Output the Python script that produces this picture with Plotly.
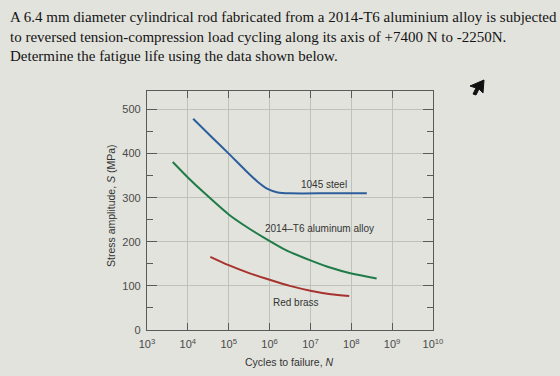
import plotly.graph_objects as go

# ---- data (log10 of cycles, stress amplitude MPa) ----
steel_logN = [4.13, 4.6, 5.0, 5.4, 5.7, 5.95, 6.2, 6.5, 7.5, 8.38]
steel_S = [479, 436, 400, 363, 337, 320, 312, 310, 310, 310]

alu_logN = [3.63, 4.0, 4.4, 5.0, 5.45, 5.85, 6.4, 7.0, 7.5, 8.0, 8.62]
alu_S = [381, 346, 311, 262, 233, 210, 181, 158, 141, 128, 117]

brass_logN = [4.55, 5.0, 5.5, 6.0, 6.5, 7.0, 7.5, 7.95]
brass_S = [166, 147, 129, 114, 100, 89, 81, 77]

x_tickvals = [1e3, 1e4, 1e5, 1e6, 1e7, 1e8, 1e9, 1e10]
x_ticktext = ["10<sup>3</sup>", "10<sup>4</sup>", "10<sup>5</sup>", "10<sup>6</sup>",
              "10<sup>7</sup>", "10<sup>8</sup>", "10<sup>9</sup>", "10<sup>10</sup>"]
y_tickvals = [0, 100, 200, 300, 400, 500]

question_lines = [
    "A 6.4 mm diameter cylindrical rod fabricated from a 2014-T6 aluminium alloy is subjected",
    "to reversed tension-compression load cycling along its axis of +7400 N to -2250N.",
    "Determine the fatigue life using the data shown below.",
]

W, H = 560, 376
L, R, T, B = 147, 127, 91, 46
PW, PH = W - L - R, H - T - B

def px(x):
    return (x - L) / PW

def py(y):
    return 1 - (y - T) / PH

BG = "#e2e3dd"
fig = go.Figure()

def curve(logN, S, color):
    fig.add_trace(go.Scatter(
        x=[10 ** v for v in logN], y=S, mode="lines",
        line=dict(color=color, width=2, shape="spline", smoothing=0.7),
        showlegend=False, hoverinfo="skip"))

curve(steel_logN, steel_S, "#2c5e9c")
curve(alu_logN, alu_S, "#1f7b47")
curve(brass_logN, brass_S, "#a6332e")

tickfont = dict(family="Liberation Sans, Arial", size=11, color="#4a4a4a")

fig.update_xaxes(
    type="log", range=[3, 10], tickvals=x_tickvals, ticktext=x_ticktext,
    showgrid=True, gridcolor="#bfc1bb", gridwidth=1,
    showline=True, linecolor="#5a5a5a", linewidth=1.2, mirror="ticks",
    ticks="inside", ticklen=7, tickcolor="#5a5a5a", tickfont=tickfont,
    ticklabelstandoff=4, zeroline=False,
)
fig.update_yaxes(
    range=[0, 542], tickvals=y_tickvals,
    showgrid=True, gridcolor="#bfc1bb", gridwidth=1,
    showline=True, linecolor="#5a5a5a", linewidth=1.2, mirror="ticks",
    ticks="inside", ticklen=10, tickcolor="#5a5a5a", tickfont=tickfont,
    ticklabelstandoff=3, zeroline=False,
    minor=dict(dtick=50, ticks="inside", ticklen=6, tickcolor="#5a5a5a", showgrid=False),
)

lblfont = dict(family="Liberation Sans, Arial", size=10, color="#333333")
fig.add_annotation(x=7.33, y=330, text="1045 steel", showarrow=False, font=lblfont)
fig.add_annotation(x=7.21, y=231, text="2014\u2013T6 aluminum alloy", showarrow=False, font=lblfont)
fig.add_annotation(x=6.64, y=62, text="Red brass", showarrow=False, font=lblfont)

# axis titles
fig.add_annotation(xref="paper", yref="paper", x=px(111), y=py(206),
                   xanchor="center", yanchor="middle",
                   text="Stress amplitude, <i>S</i> (MPa)", textangle=-90,
                   showarrow=False, font=dict(family="Liberation Sans, Arial", size=10.5, color="#333333"))
fig.add_annotation(xref="paper", yref="paper", x=px(289), y=py(362),
                   xanchor="center", yanchor="middle",
                   text="Cycles to failure, <i>N</i>",
                   showarrow=False, font=dict(family="Liberation Sans, Arial", size=10.5, color="#333333"))

# question text
qfont = dict(family="Liberation Serif, Times New Roman", size=15, color="#141414")
for i, line in enumerate(question_lines):
    fig.add_annotation(xref="paper", yref="paper", x=px(8), y=py(17 + 19.5 * i),
                       xanchor="left", yanchor="middle", text=line,
                       showarrow=False, font=qfont)

# mouse pointer in the photo
pts = [(484, 80), (470, 86), (476, 88), (473, 94), (476, 95), (479, 89), (483, 93)]
path = "M " + " L ".join(f"{px(a)},{py(b)}" for a, b in pts) + " Z"
fig.add_shape(type="path", xref="paper", yref="paper", path=path,
              fillcolor="#111111", line=dict(color="#111111", width=1))

fig.update_layout(
    width=W, height=H, margin=dict(l=L, r=R, t=T, b=B, pad=0),
    paper_bgcolor=BG, plot_bgcolor=BG,
)

fig.write_html("out.html")
